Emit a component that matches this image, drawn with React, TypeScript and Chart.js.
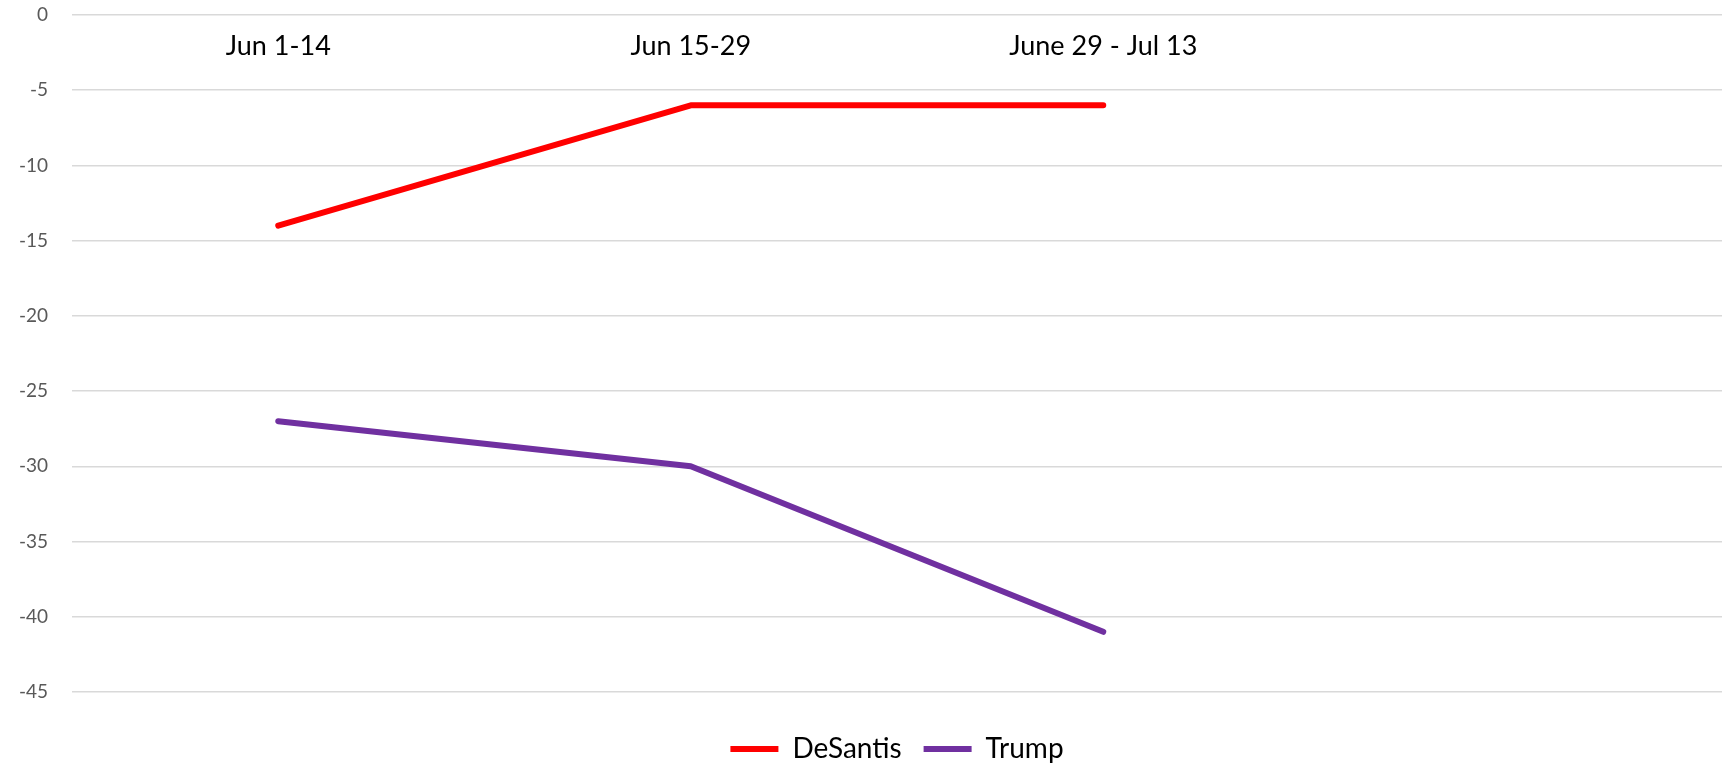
import React, { useEffect, useRef } from "react";
import { Chart, registerables } from "chart.js";

Chart.register(...registerables);

const periods = ["Jun 1-14", "Jun 15-29", "June 29 - Jul 13", ""];
const desantis = [-14, -6, -6];
const trump = [-27, -30, -41];
const yTicks = [0, -5, -10, -15, -20, -25, -30, -35, -40, -45];

const FONT = "Lato, 'Open Sans', sans-serif";

export default function App() {
  const canvasRef = useRef<HTMLCanvasElement | null>(null);

  useEffect(() => {
    document.body.style.margin = "0";
    const canvas = canvasRef.current;
    if (!canvas) return;
    const chart = new Chart(canvas, {
      type: "line",
      data: {
        labels: periods,
        datasets: [
          {
            label: "DeSantis",
            data: desantis,
            borderColor: "#FF0000",
            backgroundColor: "#FF0000",
            borderWidth: 6,
            pointRadius: 0,
            tension: 0,
            borderCapStyle: "round",
            borderJoinStyle: "round",
          },
          {
            label: "Trump",
            data: trump,
            borderColor: "#7030A0",
            backgroundColor: "#7030A0",
            borderWidth: 6,
            pointRadius: 0,
            tension: 0,
            borderCapStyle: "round",
            borderJoinStyle: "round",
          },
        ],
      },
      options: {
        animation: false,
        responsive: true,
        maintainAspectRatio: false,
        layout: { padding: { top: 0, left: 0, right: 2, bottom: -8 } },
        plugins: {
          tooltip: { enabled: false },
          legend: {
            position: "bottom",
            fullSize: false,
            title: {
              display: true,
              text: "",
              font: { size: 1 },
              padding: { top: 19.8, bottom: 0 },
            },
            labels: {
              color: "#000000",
              font: { family: FONT, size: 28 },
              boxWidth: 48,
              boxHeight: 6,
              padding: 22,
              generateLabels: (c) =>
                c.data.datasets.map((ds, i) => ({
                  text: ds.label as string,
                  fillStyle: ds.borderColor as string,
                  strokeStyle: ds.borderColor as string,
                  lineWidth: 0,
                  hidden: false,
                  datasetIndex: i,
                  fontColor: "#000000",
                })),
            },
          },
        },
        scales: {
          x: {
            position: "top",
            offset: true,
            grid: { display: false, offset: true },
            border: { display: false },
            ticks: {
              color: "#000000",
              font: { family: FONT, size: 27 },
              mirror: true,
              padding: 15,
              maxRotation: 0,
              autoSkip: false,
            },
            afterFit: (scale) => {
              scale.height = 15;
            },
          },
          y: {
            min: -45,
            max: 0,
            afterBuildTicks: (scale) => {
              scale.ticks = yTicks.map((v) => ({ value: v }));
            },
            grid: { color: "#d9d9d9", lineWidth: 1.5, drawTicks: false },
            border: { display: false },
            ticks: {
              color: "#595959",
              font: { family: FONT, size: 19 },
              padding: 24,
            },
            afterFit: (scale) => {
              scale.width = 72;
              scale.paddingTop = 0;
              scale.paddingBottom = 0;
            },
          },
        },
      },
    });
    return () => chart.destroy();
  }, []);

  return (
    <div style={{ width: "1724px", height: "765px", position: "relative" }}>
      <canvas ref={canvasRef} />
    </div>
  );
}
